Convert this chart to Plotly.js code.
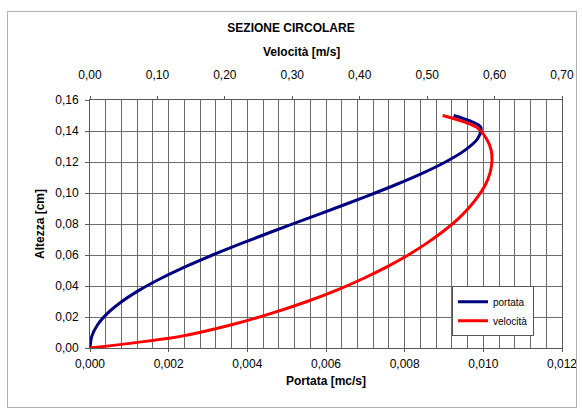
<!DOCTYPE html>
<html>
<head>
<meta charset="utf-8">
<script src="https://cdn.plot.ly/plotly-3.0.1.min.js"></script>
<style>
  html, body { margin: 0; padding: 0; background: #fff; }
  #wrap { position: relative; width: 582px; height: 414px; }
  #chart { width: 582px; height: 414px; }
  #frame { position: absolute; left: 7px; top: 11px; width: 568px; height: 395px;
           border: 1px solid #b4b4b4; pointer-events: none; }
</style>
</head>
<body>
<div id="wrap"><div id="chart"></div><div id="frame"></div></div>
<script>
// Altezza [m] (asse verticale)
const altezza = [0, 0.0075, 0.015, 0.0225, 0.03, 0.0375, 0.045, 0.0525, 0.06, 0.0675,
                 0.075, 0.0825, 0.09, 0.0975, 0.105, 0.1125, 0.12, 0.1275, 0.135, 0.1425, 0.15];
// Portata [mc/s] (asse inferiore)
const portata = [0, 0.0000444, 0.000193, 0.000450, 0.000810, 0.001267, 0.001811, 0.002431,
                 0.003116, 0.003851, 0.004623, 0.005415, 0.006212, 0.006993, 0.007741,
                 0.008431, 0.009037, 0.009527, 0.009854, 0.009934, 0.009245];
// Velocità [m/s] (asse superiore)
const velocita = [0, 0.134, 0.210, 0.270, 0.322, 0.367, 0.406, 0.441, 0.472, 0.499,
                  0.523, 0.544, 0.561, 0.575, 0.586, 0.593, 0.596, 0.595, 0.588, 0.573, 0.523];

const chartTitle = 'SEZIONE CIRCOLARE';
const topTitle = 'Velocità [m/s]';
const bottomTitle = 'Portata [mc/s]';
const leftTitle = 'Altezza [cm]';
const seriesNames = ['portata', 'velocità'];

const FONT = 'Liberation Sans, Arial, sans-serif';
const GRID = '#6c6c6c';
const AXIS = '#5a5a5a';

const traces = [
  { x: portata, y: altezza, name: seriesNames[0], type: 'scatter', mode: 'lines',
    xaxis: 'x', yaxis: 'y',
    line: { color: '#000080', width: 3, shape: 'spline', smoothing: 0.8 } },
  { x: velocita, y: altezza, name: seriesNames[1], type: 'scatter', mode: 'lines',
    xaxis: 'x2', yaxis: 'y',
    line: { color: '#ff0000', width: 3, shape: 'spline', smoothing: 0.8 } }
];

const layout = {
  width: 582, height: 414,
  margin: { l: 90, r: 20, t: 100, b: 66 },
  paper_bgcolor: '#fff', plot_bgcolor: '#fff',
  separators: ',.',
  font: { family: FONT, size: 12, color: '#000' },
  showlegend: true,
  title: { text: '<b>' + chartTitle + '</b>', x: 0.5, xref: 'container', xanchor: 'center',
           y: 1 - 28 / 414, yref: 'container', yanchor: 'middle',
           font: { family: FONT, size: 12, color: '#000' } },
  xaxis: {
    range: [0, 0.012], dtick: 0.002, tick0: 0, tickformat: '.3f',
    showgrid: true, gridcolor: GRID, gridwidth: 1,
    minor: { dtick: 0.0004, tick0: 0, showgrid: true, gridcolor: GRID, gridwidth: 1, ticks: '' },
    showline: true, linecolor: AXIS, linewidth: 1, mirror: false,
    ticks: 'outside', ticklen: 3, tickcolor: AXIS, ticklabelstandoff: 2,
    zeroline: false, fixedrange: true,
    title: { text: '<b>' + bottomTitle + '</b>', standoff: 6, font: { family: FONT, size: 12 } },
    automargin: false
  },
  xaxis2: {
    overlaying: 'x', side: 'top', anchor: 'y',
    range: [0, 0.7], dtick: 0.1, tick0: 0, tickformat: '.2f',
    showgrid: false, zeroline: false,
    showline: true, linecolor: AXIS, linewidth: 1,
    ticks: 'outside', ticklen: 3, tickcolor: AXIS, ticklabelstandoff: 12,
    automargin: false, fixedrange: true
  },
  yaxis: {
    range: [0, 0.16], dtick: 0.02, tick0: 0, tickformat: '.2f',
    showgrid: true, gridcolor: GRID, gridwidth: 1,
    showline: true, linecolor: AXIS, linewidth: 1, mirror: true,
    ticks: 'outside', ticklen: 4, tickcolor: AXIS, ticklabelstandoff: 4,
    zeroline: false, fixedrange: true,
    title: { text: '<b>' + leftTitle + '</b>', standoff: 8, font: { family: FONT, size: 12 } },
    automargin: false
  },
  legend: {
    x: (452 - 90) / 472, y: (347.7 - 286) / 247.7, xanchor: 'left', yanchor: 'top',
    bgcolor: '#fff', bordercolor: '#555', borderwidth: 1,
    font: { family: FONT, size: 10, color: '#000' },
    tracegroupgap: 0, itemwidth: 30
  },
  annotations: [
    { text: '<b>' + topTitle + '</b>', xref: 'paper', yref: 'paper',
      x: (301 - 90) / 472, y: (347.7 - 52) / 247.7, xanchor: 'center', yanchor: 'middle',
      showarrow: false, font: { family: FONT, size: 12, color: '#000' } }
  ]
};

Plotly.newPlot('chart', traces, layout, { staticPlot: true, displayModeBar: false });
</script>
</body>
</html>
